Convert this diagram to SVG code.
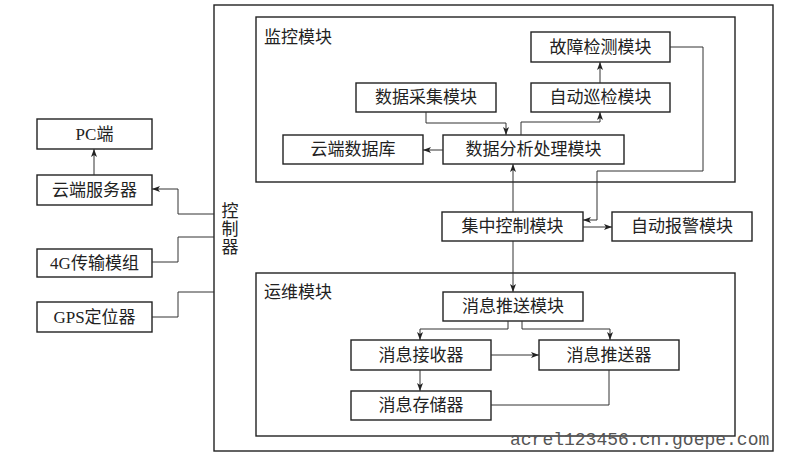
<svg xmlns="http://www.w3.org/2000/svg" width="807" height="457" viewBox="0 0 807 457">
<style>
.box{fill:#fff;stroke:#222;stroke-width:1.4}
.frame{fill:none;stroke:#222;stroke-width:1.4}
.t{font-family:"Liberation Serif","Noto Sans CJK SC",serif;font-size:17px;fill:#222;text-anchor:middle;dominant-baseline:central}
.lbl{font-family:"Liberation Serif","Noto Sans CJK SC",serif;font-size:17px;fill:#222;dominant-baseline:central}
.c{fill:none;stroke:#333;stroke-width:1}
.wm{font-family:"Liberation Mono",monospace;font-size:18px;fill:#555}
</style>
<defs>
<marker id="a" markerUnits="userSpaceOnUse" markerWidth="8" markerHeight="8" viewBox="0 0 8 8" refX="8" refY="4" orient="auto">
<path d="M0 1 L8 4 L0 7 L2 4 Z" fill="#222"/>
</marker>
</defs>
<rect width="807" height="457" fill="#fff"/>
<g id="controller">
<rect class="frame" x="214" y="5" width="559" height="446"/>
<text class="t" x="230" y="211">控</text>
<text class="t" x="230" y="229">制</text>
<text class="t" x="230" y="247">器</text>
</g>
<g id="monitor-module">
<rect class="frame" x="256" y="17" width="479" height="165"/>
<text class="lbl" x="264" y="37">监控模块</text>
</g>
<g id="ops-module">
<rect class="frame" x="256" y="273" width="479" height="163"/>
<text class="lbl" x="264" y="292">运维模块</text>
</g>
<g id="pc"><rect class="box" x="37" y="119" width="115" height="30"/><text class="t" x="94.5" y="134">PC端</text></g>
<g id="cloud-server"><rect class="box" x="37" y="175" width="115" height="30"/><text class="t" x="94.5" y="190">云端服务器</text></g>
<g id="g4"><rect class="box" x="37" y="249" width="115" height="28"/><text class="t" x="94.5" y="263">4G传输模组</text></g>
<g id="gps"><rect class="box" x="37" y="302" width="115" height="30"/><text class="t" x="94.5" y="317">GPS定位器</text></g>
<g id="fault"><rect class="box" x="531" y="32" width="139" height="30"/><text class="t" x="600.5" y="47">故障检测模块</text></g>
<g id="patrol"><rect class="box" x="531" y="83" width="139" height="29"/><text class="t" x="600.5" y="97.5">自动巡检模块</text></g>
<g id="collect"><rect class="box" x="356" y="83" width="140" height="29"/><text class="t" x="426" y="97.5">数据采集模块</text></g>
<g id="cloud-db"><rect class="box" x="283" y="135" width="140" height="29"/><text class="t" x="353" y="149.5">云端数据库</text></g>
<g id="analysis"><rect class="box" x="443" y="135" width="181" height="29"/><text class="t" x="533.5" y="149.5">数据分析处理模块</text></g>
<g id="central"><rect class="box" x="442" y="212" width="141" height="29"/><text class="t" x="512.5" y="226.5">集中控制模块</text></g>
<g id="alarm"><rect class="box" x="612" y="212" width="140" height="29"/><text class="t" x="682" y="226.5">自动报警模块</text></g>
<g id="push-module"><rect class="box" x="443" y="292" width="140" height="29"/><text class="t" x="513" y="306.5">消息推送模块</text></g>
<g id="receiver"><rect class="box" x="351" y="340" width="140" height="30"/><text class="t" x="421" y="355">消息接收器</text></g>
<g id="pusher"><rect class="box" x="539" y="340" width="140" height="30"/><text class="t" x="609" y="355">消息推送器</text></g>
<g id="storage"><rect class="box" x="351" y="391" width="140" height="29"/><text class="t" x="421" y="405.5">消息存储器</text></g>
<g id="connectors">
<path class="c" d="M94 175 V149" marker-end="url(#a)"/>
<path class="c" d="M214 214 H178 V189 H152" marker-end="url(#a)"/>
<path class="c" d="M152 262 H178 V237 H214"/>
<path class="c" d="M152 317 H178 V292 H214"/>
<path class="c" d="M426 112 V123 H506 V135" marker-end="url(#a)"/>
<path class="c" d="M443 150 H423" marker-end="url(#a)"/>
<path class="c" d="M521 135 V122 H600 V112" marker-end="url(#a)"/>
<path class="c" d="M600 83 V62" marker-end="url(#a)"/>
<path class="c" d="M670 47 H703 V171 H597 V220 H583" marker-end="url(#a)"/>
<path class="c" d="M513 212 V164" marker-end="url(#a)"/>
<path class="c" d="M583 227 H612" marker-end="url(#a)"/>
<path class="c" d="M513 241 V292" marker-end="url(#a)"/>
<path class="c" d="M508 321 V329 H420 V340" marker-end="url(#a)"/>
<path class="c" d="M522 321 V329 H610 V340" marker-end="url(#a)"/>
<path class="c" d="M491 355 H539" marker-end="url(#a)"/>
<path class="c" d="M420 370 V391" marker-end="url(#a)"/>
<path class="c" d="M491 405 H609 V370"/>
</g>
<text class="wm" x="510" y="445">acrel123456.cn.goepe.com</text>
</svg>
